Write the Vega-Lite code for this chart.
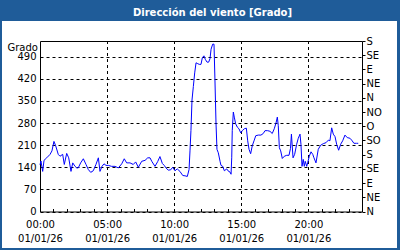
{
  "$schema": "https://vega.github.io/schema/vega-lite/v6.json",
  "width": 395,
  "height": 227,
  "autosize": {"type": "none"},
  "padding": {"left": 2, "top": 21, "right": 3, "bottom": 2},
  "background": "#1F5C99",
  "config": {
    "view": {"fill": "white", "stroke": null},
    "font": "DejaVu Sans",
    "axis": {"labelFont": "DejaVu Sans", "labelFontSize": 10, "labelColor": "black", "domainColor": "black", "tickColor": "black", "titleColor": "black", "domainWidth": 1}
  },
  "title": {
    "text": "Dirección del viento [Grado]",
    "color": "white",
    "font": "DejaVu Sans",
    "fontSize": 10,
    "fontWeight": "bold",
    "anchor": "middle",
    "frame": "group",
    "baseline": "alphabetic",
    "offset": -5,
    "dx": 13
  },
  "data": {
    "values": [
      {"h": 0, "v": 148}, {"h": 0.07, "v": 160}, {"h": 0.2, "v": 127}, {"h": 0.3, "v": 162},
      {"h": 0.5, "v": 170}, {"h": 0.75, "v": 181}, {"h": 0.89, "v": 192}, {"h": 1.04, "v": 222},
      {"h": 1.17, "v": 208}, {"h": 1.36, "v": 181}, {"h": 1.49, "v": 175}, {"h": 1.69, "v": 181},
      {"h": 1.81, "v": 149}, {"h": 1.99, "v": 184}, {"h": 2.14, "v": 170}, {"h": 2.31, "v": 127},
      {"h": 2.44, "v": 154}, {"h": 2.61, "v": 143}, {"h": 2.74, "v": 138}, {"h": 2.85, "v": 138},
      {"h": 3.03, "v": 154}, {"h": 3.23, "v": 167}, {"h": 3.43, "v": 149}, {"h": 3.6, "v": 133},
      {"h": 3.78, "v": 124}, {"h": 3.97, "v": 129}, {"h": 4.17, "v": 149}, {"h": 4.35, "v": 170},
      {"h": 4.47, "v": 127}, {"h": 4.62, "v": 143}, {"h": 4.77, "v": 151}, {"h": 4.92, "v": 146},
      {"h": 5.09, "v": 146}, {"h": 5.34, "v": 143}, {"h": 5.59, "v": 143}, {"h": 5.84, "v": 138},
      {"h": 6.09, "v": 151}, {"h": 6.28, "v": 167}, {"h": 6.46, "v": 154}, {"h": 6.71, "v": 154},
      {"h": 6.95, "v": 149}, {"h": 7.13, "v": 157}, {"h": 7.33, "v": 140}, {"h": 7.58, "v": 159},
      {"h": 7.83, "v": 162}, {"h": 8.03, "v": 170}, {"h": 8.2, "v": 170}, {"h": 8.33, "v": 159},
      {"h": 8.57, "v": 143}, {"h": 8.77, "v": 158}, {"h": 8.94, "v": 174}, {"h": 9.12, "v": 152},
      {"h": 9.26, "v": 146}, {"h": 9.39, "v": 138}, {"h": 9.56, "v": 131}, {"h": 9.74, "v": 132},
      {"h": 9.89, "v": 140}, {"h": 10.06, "v": 129}, {"h": 10.23, "v": 135}, {"h": 10.43, "v": 127},
      {"h": 10.64, "v": 114}, {"h": 10.81, "v": 113}, {"h": 10.98, "v": 111}, {"h": 11.11, "v": 133},
      {"h": 11.18, "v": 192}, {"h": 11.25, "v": 256}, {"h": 11.33, "v": 353}, {"h": 11.43, "v": 396},
      {"h": 11.53, "v": 439}, {"h": 11.63, "v": 471}, {"h": 11.72, "v": 469}, {"h": 11.87, "v": 466},
      {"h": 12.0, "v": 466}, {"h": 12.1, "v": 487}, {"h": 12.22, "v": 493}, {"h": 12.32, "v": 482},
      {"h": 12.45, "v": 473}, {"h": 12.57, "v": 473}, {"h": 12.67, "v": 484}, {"h": 12.75, "v": 514},
      {"h": 12.87, "v": 530}, {"h": 12.97, "v": 530}, {"h": 13.04, "v": 417}, {"h": 13.12, "v": 278},
      {"h": 13.19, "v": 197}, {"h": 13.29, "v": 186}, {"h": 13.42, "v": 159}, {"h": 13.49, "v": 146},
      {"h": 13.62, "v": 143}, {"h": 13.74, "v": 129}, {"h": 13.92, "v": 135}, {"h": 14.01, "v": 129},
      {"h": 14.16, "v": 125}, {"h": 14.24, "v": 118}, {"h": 14.29, "v": 170}, {"h": 14.33, "v": 256},
      {"h": 14.41, "v": 315}, {"h": 14.48, "v": 299}, {"h": 14.58, "v": 278}, {"h": 14.71, "v": 267},
      {"h": 14.83, "v": 262}, {"h": 14.96, "v": 249}, {"h": 15.08, "v": 256}, {"h": 15.23, "v": 262},
      {"h": 15.38, "v": 264}, {"h": 15.48, "v": 224}, {"h": 15.58, "v": 197}, {"h": 15.7, "v": 183},
      {"h": 15.82, "v": 208}, {"h": 15.97, "v": 226}, {"h": 16.08, "v": 240}, {"h": 16.27, "v": 242},
      {"h": 16.47, "v": 242}, {"h": 16.64, "v": 247}, {"h": 16.77, "v": 256}, {"h": 16.97, "v": 256},
      {"h": 17.14, "v": 254}, {"h": 17.31, "v": 247}, {"h": 17.46, "v": 262}, {"h": 17.59, "v": 280},
      {"h": 17.69, "v": 299}, {"h": 17.76, "v": 272}, {"h": 17.84, "v": 202}, {"h": 17.94, "v": 192},
      {"h": 18.06, "v": 168}, {"h": 18.21, "v": 175}, {"h": 18.39, "v": 178}, {"h": 18.56, "v": 178},
      {"h": 18.67, "v": 200}, {"h": 18.74, "v": 245}, {"h": 18.86, "v": 170}, {"h": 18.98, "v": 181},
      {"h": 19.13, "v": 213}, {"h": 19.25, "v": 232}, {"h": 19.38, "v": 245}, {"h": 19.45, "v": 213},
      {"h": 19.53, "v": 143}, {"h": 19.62, "v": 165}, {"h": 19.7, "v": 143}, {"h": 19.77, "v": 159},
      {"h": 19.88, "v": 143}, {"h": 19.95, "v": 154}, {"h": 20.07, "v": 175}, {"h": 20.2, "v": 189},
      {"h": 20.33, "v": 181}, {"h": 20.42, "v": 170}, {"h": 20.57, "v": 154}, {"h": 20.74, "v": 197},
      {"h": 20.92, "v": 210}, {"h": 21.12, "v": 215}, {"h": 21.32, "v": 218}, {"h": 21.49, "v": 226},
      {"h": 21.61, "v": 224}, {"h": 21.74, "v": 265}, {"h": 21.86, "v": 245}, {"h": 21.99, "v": 237},
      {"h": 22.11, "v": 213}, {"h": 22.26, "v": 194}, {"h": 22.41, "v": 213}, {"h": 22.56, "v": 224},
      {"h": 22.73, "v": 242}, {"h": 22.9, "v": 234}, {"h": 23.1, "v": 232}, {"h": 23.23, "v": 226},
      {"h": 23.4, "v": 216}, {"h": 23.6, "v": 216}, {"h": 23.72, "v": 216}
    ]
  },
  "layer": [
    {
      "mark": {"type": "line", "color": "#0000FF", "strokeWidth": 1},
      "encoding": {
        "x": {
          "field": "h", "type": "quantitative",
          "scale": {"domain": [0, 24], "range": [38, 360], "nice": false, "zero": false},
          "axis": {
            "orient": "bottom", "offset": -36.5, "title": null,
            "values": [0,1,2,3,4,5,6,7,8,9,10,11,12,13,14,15,16,17,18,19,20,21,22,23,24],
            "tickSize": -3,
            "labelExpr": "datum.value % 5 === 0 && datum.value < 24 ? [(datum.value < 10 ? '0' : '') + datum.value + ':00', '01/01/26'] : ''",
            "labelBaseline": "top", "labelLineHeight": 14, "labelPadding": 11,
            "labelOverlap": false, "labelFlush": false, "labelBound": false,
            "grid": false
          }
        },
        "y": {
          "field": "v", "type": "quantitative",
          "scale": {"domain": [0, 540], "range": [190.5, 20], "nice": false, "zero": false},
          "axis": {
            "orient": "left", "offset": -38,
            "values": [0, 70, 140, 210, 280, 350, 420, 490],
            "ticks": false, "labelPadding": 4,
            "grid": true, "gridColor": "black", "gridDash": [3, 3],
            "title": "Grado", "titleAngle": 0, "titleAlign": "left", "titleBaseline": "alphabetic",
            "titleX": -33, "titleY": 29, "titleFont": "DejaVu Sans", "titleFontSize": 10, "titleFontWeight": "normal"
          }
        }
      }
    },
    {
      "mark": {"type": "line", "strokeOpacity": 0},
      "encoding": {
        "x": {
          "field": "h", "type": "quantitative",
          "scale": {"domain": [0, 24], "range": [38, 360], "nice": false, "zero": false},
          "axis": {
            "orient": "top", "offset": -20, "title": null, "labels": false, "ticks": false,
            "values": [5, 10, 15, 20],
            "grid": true, "gridColor": "black", "gridDash": [3, 3]
          }
        },
        "y": {
          "field": "v", "type": "quantitative",
          "scale": {"domain": [0, 540], "range": [190.5, 20], "nice": false, "zero": false},
          "axis": {
            "orient": "right", "offset": -35, "title": null, "grid": false,
            "values": [0, 45, 90, 135, 180, 225, 270, 315, 360, 405, 450, 495, 540],
            "tickSize": 3, "labelPadding": 1,
            "labelExpr": "['N','NE','E','SE','S','SO','O','NO','N','NE','E','SE','S'][round(datum.value / 45)]"
          }
        }
      }
    }
  ],
  "resolve": {"axis": {"x": "independent", "y": "independent"}}
}
